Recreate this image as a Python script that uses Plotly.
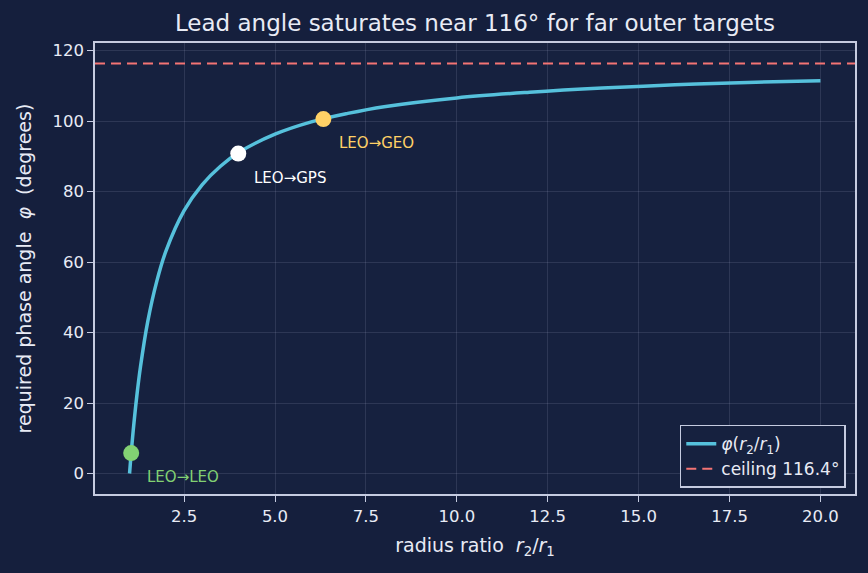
import plotly.graph_objects as go

# curve values
ratio = [1.0, 1.02, 1.05, 1.1, 1.2, 1.3, 1.5, 1.75, 2.0, 2.5, 3.0, 3.5, 4.0, 5.0, 6.0, 7.0, 8.0, 10.0, 12.0, 14.0, 16.0, 18.0, 20.0]
phase = [0.0, 2.6, 6.4, 12.1, 22.0, 30.2, 43.1, 54.6, 63.1, 74.6, 82.0, 87.2, 91.1, 96.3, 99.8, 102.2, 104.1, 106.6, 108.2, 109.4, 110.3, 111.0, 111.5]

ceiling = 116.36

pt_names = ["LEO→LEO", "LEO→GPS", "LEO→GEO"]
pt_x = [1.045, 3.99, 6.33]
pt_y = [5.8, 90.8, 100.6]
pt_colors = ["#82d173", "#ffffff", "#ffd166"]

x_ticks = [2.5, 5.0, 7.5, 10.0, 12.5, 15.0, 17.5, 20.0]
y_ticks = [0, 20, 40, 60, 80, 100, 120]

FONT = "DejaVu Sans"
FG = "#e8ebf5"
SPINE = "#c5cbe0"
BG = "#151f3d"
PBG = "#16213f"
RED = "#f47474"

fig = go.Figure()
fig.add_trace(go.Scatter(
    x=ratio, y=phase, mode="lines", line=dict(color="#56c1dc", width=3.5, shape="spline"),
    name="<i>φ</i>(<i>r</i><sub>2</sub>/<i>r</i><sub>1</sub>)", legendrank=1))
fig.add_trace(go.Scatter(
    x=[None], y=[None], mode="lines", line=dict(color=RED, width=2.2, dash="10px,6px"),
    name="ceiling 116.4°", legendrank=2))
fig.add_shape(type="line", xref="paper", x0=0, x1=1, yref="y", y0=ceiling, y1=ceiling,
              line=dict(color=RED, width=2.2, dash="10px,6px"))

for n, x, y, c in zip(pt_names, pt_x, pt_y, pt_colors):
    fig.add_trace(go.Scatter(x=[x], y=[y], mode="markers", marker=dict(size=16, color=c),
                             showlegend=False, hoverinfo="skip"))
    fig.add_annotation(x=x, y=y, text=n, showarrow=False, xanchor="left", yanchor="top",
                       xshift=14, yshift=-13, font=dict(family=FONT, size=15, color=c))

axis_common = dict(
    showline=True, linecolor=SPINE, linewidth=1.6, mirror=True,
    ticks="outside", ticklen=6, tickwidth=1.4, tickcolor=SPINE,
    gridcolor="rgba(200,210,240,0.13)", gridwidth=1, zeroline=False,
    tickfont=dict(family=FONT, size=16.5, color=FG),
)
fig.update_xaxes(range=[0.05, 20.95], tickvals=x_ticks, ticktext=[f"{v:.1f}" for v in x_ticks],
                 title=dict(text="radius ratio  <i>r</i><sub>2</sub>/<i>r</i><sub>1</sub>",
                            font=dict(family=FONT, size=19, color=FG), standoff=14),
                 **axis_common)
fig.update_yaxes(range=[-5.82, 122.18], tickvals=y_ticks, ticktext=[str(v) for v in y_ticks],
                 title=dict(text="required phase angle  <i>φ</i>  (degrees)",
                            font=dict(family=FONT, size=19, color=FG), standoff=16),
                 **axis_common)

fig.update_layout(
    width=868, height=573,
    margin=dict(l=95, r=13, t=43, b=79),
    paper_bgcolor=BG, plot_bgcolor=PBG,
    title=dict(text="Lead angle saturates near 116° for far outer targets",
               x=0.5, xref="paper", xanchor="center", y=0.96, yanchor="middle",
               font=dict(family=FONT, size=23, color=FG)),
    legend=dict(x=0.988, y=0.014, xanchor="right", yanchor="bottom",
                bgcolor=PBG, bordercolor=SPINE, borderwidth=1.4,
                font=dict(family=FONT, size=17, color=FG)),
    showlegend=True,
)

fig.write_html("out.html")
